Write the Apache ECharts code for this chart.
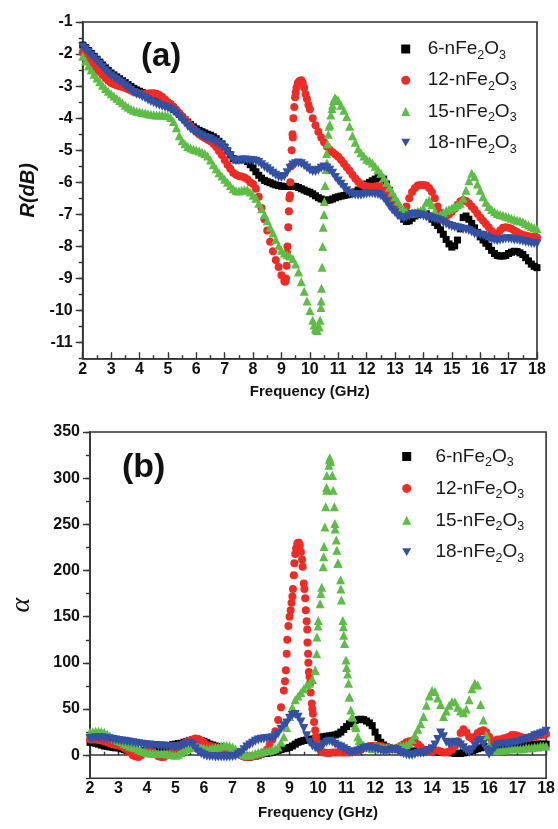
<!DOCTYPE html>
<html>
<head>
<meta charset="utf-8">
<script src="https://cdn.jsdelivr.net/npm/echarts@6/dist/echarts.min.js"></script>
<style>
html,body{margin:0;padding:0;background:#fff;}
#chart{width:558px;height:829px;}
</style>
</head>
<body>
<div id="chart"></div>
<script>
// Frequency grid (GHz), 0.1 GHz step
const freq = [
2.0,2.1,2.2,2.3,2.4,2.5,2.6,2.7,2.8,2.9,
3.0,3.1,3.2,3.3,3.4,3.5,3.6,3.7,3.8,3.9,
4.0,4.1,4.2,4.3,4.4,4.5,4.6,4.7,4.8,4.9,
5.0,5.1,5.2,5.3,5.4,5.5,5.6,5.7,5.8,5.9,
6.0,6.1,6.2,6.3,6.4,6.5,6.6,6.7,6.8,6.9,
7.0,7.1,7.2,7.3,7.4,7.5,7.6,7.7,7.8,7.9,
8.0,8.1,8.2,8.3,8.4,8.5,8.6,8.7,8.8,8.9,
9.0,9.1,9.2,9.3,9.4,9.5,9.6,9.7,9.8,9.9,
10.0,10.1,10.2,10.3,10.4,10.5,10.6,10.7,10.8,10.9,
11.0,11.1,11.2,11.3,11.4,11.5,11.6,11.7,11.8,11.9,
12.0,12.1,12.2,12.3,12.4,12.5,12.6,12.7,12.8,12.9,
13.0,13.1,13.2,13.3,13.4,13.5,13.6,13.7,13.8,13.9,
14.0,14.1,14.2,14.3,14.4,14.5,14.6,14.7,14.8,14.9,
15.0,15.1,15.2,15.3,15.4,15.5,15.6,15.7,15.8,15.9,
16.0,16.1,16.2,16.3,16.4,16.5,16.6,16.7,16.8,16.9,
17.0,17.1,17.2,17.3,17.4,17.5,17.6,17.7,17.8,17.9,
18.0];

const seriesNames = ['6-nFe2O3', '12-nFe2O3', '15-nFe2O3', '18-nFe2O3'];

// Panel (a): R (dB)
const rA6 = [
-1.72,-1.8,-1.89,-1.98,-2.07,-2.16,-2.25,-2.34,-2.43,-2.51,
-2.59,-2.65,-2.71,-2.77,-2.83,-2.89,-2.95,-3.01,-3.07,-3.12,
-3.16,-3.2,-3.24,-3.29,-3.34,-3.4,-3.45,-3.5,-3.55,-3.58,
-3.62,-3.67,-3.73,-3.8,-3.88,-3.96,-4.04,-4.12,-4.2,-4.27,
-4.33,-4.38,-4.42,-4.46,-4.5,-4.53,-4.58,-4.64,-4.72,-4.8,
-4.9,-5.02,-5.14,-5.26,-5.3,-5.3,-5.29,-5.3,-5.35,-5.45,
-5.55,-5.67,-5.78,-5.87,-5.94,-5.98,-6.01,-6.05,-6.08,-6.1,
-6.12,-6.13,-6.13,-6.12,-6.12,-6.13,-6.16,-6.2,-6.24,-6.28,
-6.31,-6.36,-6.42,-6.48,-6.52,-6.55,-6.56,-6.55,-6.52,-6.48,
-6.45,-6.43,-6.41,-6.39,-6.37,-6.35,-6.3,-6.24,-6.16,-6.1,
-6.05,-6.0,-5.95,-5.9,-5.86,-5.86,-5.9,-6.05,-6.25,-6.45,
-6.65,-6.85,-7.02,-7.15,-7.22,-7.2,-7.12,-7.05,-7.0,-6.98,
-6.97,-6.98,-7.05,-7.15,-7.25,-7.35,-7.48,-7.62,-7.78,-7.92,
-8.02,-7.98,-7.8,-7.45,-7.1,-7.05,-7.15,-7.28,-7.42,-7.56,
-7.7,-7.8,-7.9,-8.0,-8.12,-8.22,-8.28,-8.3,-8.3,-8.28,
-8.22,-8.18,-8.15,-8.16,-8.2,-8.25,-8.35,-8.45,-8.55,-8.62,
-8.66];

const rA12 = [
-1.95,-2.05,-2.15,-2.27,-2.38,-2.47,-2.55,-2.65,-2.75,-2.83,
-2.9,-2.94,-2.97,-3.0,-3.03,-3.06,-3.1,-3.14,-3.18,-3.21,
-3.23,-3.24,-3.24,-3.23,-3.22,-3.22,-3.24,-3.28,-3.34,-3.42,
-3.5,-3.56,-3.64,-3.74,-3.84,-3.94,-4.04,-4.14,-4.24,-4.34,
-4.42,-4.5,-4.56,-4.62,-4.67,-4.72,-4.8,-4.9,-5.02,-5.15,
-5.3,-5.45,-5.58,-5.7,-5.76,-5.8,-5.82,-5.85,-5.9,-6.0,
-6.05,-6.2,-6.45,-6.8,-7.15,-7.5,-7.85,-8.15,-8.42,-8.64,
-8.9,-9.08,-8.2,-6.4,-4.6,-3.2,-2.88,-2.82,-3.05,-3.4,
-3.72,-4.0,-4.22,-4.42,-4.6,-4.75,-4.88,-4.98,-5.06,-5.13,
-5.2,-5.3,-5.42,-5.53,-5.64,-5.76,-5.88,-5.98,-6.06,-6.1,
-6.12,-6.14,-6.14,-6.13,-6.12,-6.14,-6.2,-6.32,-6.48,-6.62,
-6.75,-6.85,-6.9,-6.88,-6.75,-6.5,-6.3,-6.18,-6.1,-6.08,
-6.08,-6.1,-6.18,-6.3,-6.5,-6.75,-6.95,-7.05,-7.05,-7.0,
-6.92,-6.82,-6.7,-6.6,-6.55,-6.58,-6.65,-6.75,-6.85,-6.98,
-7.1,-7.2,-7.3,-7.4,-7.52,-7.62,-7.6,-7.5,-7.42,-7.4,
-7.42,-7.45,-7.5,-7.55,-7.6,-7.64,-7.66,-7.68,-7.7,-7.7,
-7.72];
// extra readings on the steep rise of 12-nFe2O3 (a): [frequency, R]
const rA12Steep = [[9.13,-9.1],[9.16,-9.0],[9.18,-8.6],[9.21,-8.0],[9.24,-7.4],[9.26,-6.9],[9.28,-6.5],[9.31,-6.0],[9.34,-5.5],[9.36,-5.0],[9.39,-4.5],[9.42,-4.0],[9.45,-3.65],[9.48,-3.35],[9.53,-3.05],[9.57,-2.92],[9.64,-2.84],[9.75,-2.9],[9.85,-3.25],[9.95,-3.58]];

const rA15 = [
-2.07,-2.22,-2.37,-2.5,-2.63,-2.75,-2.86,-2.97,-3.07,-3.16,
-3.24,-3.31,-3.38,-3.45,-3.52,-3.6,-3.66,-3.71,-3.75,-3.78,
-3.8,-3.82,-3.84,-3.86,-3.88,-3.89,-3.9,-3.9,-3.9,-3.91,
-3.92,-3.98,-4.1,-4.3,-4.55,-4.7,-4.8,-4.88,-4.93,-4.97,
-4.99,-5.02,-5.06,-5.1,-5.18,-5.3,-5.45,-5.58,-5.7,-5.8,
-5.9,-6.0,-6.1,-6.2,-6.26,-6.27,-6.25,-6.23,-6.23,-6.3,
-6.4,-6.5,-6.65,-6.82,-7.0,-7.2,-7.4,-7.58,-7.78,-7.98,
-8.12,-8.2,-8.26,-8.3,-8.38,-8.55,-8.8,-9.1,-9.4,-9.7,
-10.0,-10.3,-10.55,-10.5,-9.7,-7.0,-5.4,-4.2,-3.6,-3.38,
-3.45,-3.6,-3.75,-3.95,-4.25,-4.55,-4.75,-4.95,-5.08,-5.18,
-5.28,-5.33,-5.4,-5.5,-5.6,-5.72,-5.86,-6.0,-6.15,-6.3,
-6.45,-6.6,-6.75,-6.85,-6.92,-6.97,-6.96,-6.93,-6.9,-6.88,
-6.8,-6.62,-6.56,-6.7,-6.9,-7.05,-7.02,-6.95,-6.88,-6.85,
-6.8,-6.75,-6.7,-6.65,-6.5,-6.25,-5.95,-5.72,-5.82,-6.05,
-6.25,-6.45,-6.62,-6.75,-6.85,-6.92,-6.97,-7.0,-7.03,-7.06,
-7.08,-7.12,-7.15,-7.18,-7.2,-7.23,-7.28,-7.33,-7.38,-7.42,
-7.45];
const rA15Steep = [[10.15,-10.45],[10.22,-10.6],[10.26,-10.62],[10.33,-10.5],[10.36,-10.3],[10.39,-9.9],[10.41,-9.3],[10.43,-8.65],[10.45,-8.0],[10.47,-7.4],[10.51,-6.6],[10.54,-6.1],[10.57,-5.6],[10.59,-5.1],[10.62,-4.8],[10.65,-4.5],[10.68,-4.25],[10.74,-3.9],[10.78,-3.7],[10.84,-3.45],[10.88,-3.37],[10.95,-3.42]];

const rA18 = [
-1.78,-1.86,-1.95,-2.04,-2.13,-2.22,-2.32,-2.42,-2.52,-2.6,
-2.68,-2.74,-2.8,-2.86,-2.92,-2.99,-3.06,-3.13,-3.2,-3.25,
-3.28,-3.33,-3.38,-3.43,-3.48,-3.52,-3.56,-3.6,-3.63,-3.66,
-3.68,-3.72,-3.78,-3.86,-3.96,-4.06,-4.16,-4.26,-4.34,-4.4,
-4.45,-4.5,-4.55,-4.6,-4.63,-4.65,-4.7,-4.76,-4.82,-4.86,
-4.95,-5.06,-5.18,-5.3,-5.33,-5.32,-5.3,-5.3,-5.31,-5.32,
-5.33,-5.34,-5.38,-5.45,-5.52,-5.58,-5.65,-5.72,-5.78,-5.83,
-5.85,-5.82,-5.7,-5.56,-5.46,-5.42,-5.4,-5.42,-5.48,-5.55,
-5.62,-5.66,-5.66,-5.62,-5.56,-5.52,-5.55,-5.62,-5.72,-5.85,
-5.96,-6.06,-6.16,-6.26,-6.33,-6.37,-6.39,-6.4,-6.4,-6.38,
-6.36,-6.35,-6.35,-6.36,-6.38,-6.42,-6.5,-6.62,-6.75,-6.86,
-6.95,-7.05,-7.1,-7.13,-7.1,-7.05,-7.0,-6.99,-7.0,-7.02,
-7.05,-7.08,-7.1,-7.12,-7.14,-7.17,-7.2,-7.25,-7.3,-7.35,
-7.38,-7.4,-7.42,-7.44,-7.46,-7.48,-7.5,-7.55,-7.6,-7.62,
-7.64,-7.66,-7.7,-7.74,-7.78,-7.8,-7.82,-7.8,-7.78,-7.76,
-7.76,-7.77,-7.8,-7.8,-7.82,-7.84,-7.86,-7.88,-7.9,-7.91,
-7.92];

// Panel (b): alpha
const aB6 = [
14,13.5,13,12,11,10,9.5,9,8.5,8,
8,7,6,5,4,3.5,3,3.5,4,5,
5.5,6,6.5,7,7.5,8,8.5,9.5,10.5,11.5,
12,12.5,13,14,15,16,16.5,17,16.5,16,
15,13.5,12,11,10,9.5,9,8.5,7.5,6.5,
5,3.5,2,0.5,-1,-2,-2,-1.5,-1,0,
1,2,2,2.5,3,4,5,6,7,7.5,
8.5,10,12,14,15,16,16.5,17,17.5,18,
19,19.5,20,20.5,21,21.5,22,23,25,28,
31,34,36,37.5,38.5,39,38.5,37,35,32,
25,19,14,11,9,8,7,6,6,5.5,
5,5,5,4.5,4.5,4,4,4.5,5,5,
4.5,4,3.5,3,3,3,3,2.5,2,2,
2,2.5,3,4,5,6,7,8,8.5,9,
9.5,10,10,10,10,10,10,10.5,11,11,
11,11,11,11,11.5,11.5,12,12,12,12,
12];

const aB12 = [
17,17,17,16.5,16,15,14,13,12,11,
10.5,9.5,8,6,3,0,-1.5,-2,0,3,
5,5,3.5,1,-1,-2,-2,0,2,4,
6,8,10.5,12.5,14.5,16,17,18,17.5,16,
14,11,10,9.5,8.5,7.5,7,6.5,6,5,
4,3,1.5,0,-1.5,-2,-1.5,-1,-0.5,0,
1,3,6,11,17,26,38,52,70,110,
150,172,218,230,220,186,145,85,50,27,
8,5,3,2.5,2.5,3,3,3,3,3,
3,3,3.5,4,5,6,8,9,10,10,
10,10,10,9,8,7,7,7,8,10,
12,14,15,15,14,12,9,6,5,4,
4,5,5,4,3,3,4,6,10,15,
24,28,25,20,18,20,24,26,27,25,
20,16,16,17,17,18,19,20,22,22,
21,20,19,19,19,20,20,21,22,22,
23];
const aB12Peak = [[8.84,80],[8.87,92],[8.92,125],[8.96,140],[9.04,157],[9.07,165],[9.12,180],[9.15,195],[9.17,208],[9.23,224],[9.27,229],[9.33,230],[9.36,227],[9.44,212],[9.46,204],[9.52,180],[9.55,170],[9.57,157],[9.62,136],[9.63,122],[9.65,110],[9.66,100],[9.68,90],[9.72,78],[9.74,68],[9.78,56],[9.82,45],[9.86,36],[9.93,20],[9.96,14]];

const aB15 = [
25,25.5,26,26,25.5,25,23,21,19,17.5,
16,14.5,13,11.5,10,9,8,6.5,5,4,
3,2.5,2,2,2,2,2,1.5,1,0.5,
0,1,3,5,7,8,9,9,9,8,
7.5,7,7,7.5,8,9,10,10.5,10.5,10,
9,7,4,2,0.5,0,0,1,2,3,
3.5,4,4.5,5,6,7,9,14,20,30,
42,52,60,64,68,72,76,78,82,92,
140,175,215,290,320,303,245,208,180,130,
95,63,42,32,20,14,11,9,8,7,
10,9,9,8,8,8,8,8,9,10,
10,11,13,17,22,28,34,42,54,64,
70,69,62,55,42,48,54,58,58,52,
48,46,50,60,72,78,76,55,38,22,
12,6,5,5,5,6,6,7,7,7,
7,7,7,8,8,8,9,9,10,10,
10];
const aB15Peak = [[9.9,92],[9.95,110],[9.96,128],[10.01,146],[10.07,164],[10.13,182],[10.18,204],[10.21,226],[10.24,247],[10.27,269],[10.3,287],[10.31,303],[10.38,314],[10.41,322],[10.44,318],[10.5,303],[10.53,287],[10.57,269],[10.59,251],[10.64,233],[10.66,222],[10.7,208],[10.79,190],[10.82,168],[10.87,146],[10.89,139],[10.93,121],[10.98,103],[11.04,88],[11.07,78],[11.1,63],[11.15,49],[11.21,41],[11.33,30],[11.44,16]];

const aB18 = [
18,18.5,19,19,19,18.5,18,17.5,17,16.5,
16,15.5,15,14.5,14,13.5,13,12.5,12,11.5,
11,11,10.5,10.5,10,10,10,9.5,9.5,9,
9,9.5,10,11,12.5,13,11,7,3.5,1.5,
0,-1,-1.5,-1.5,-2,-2,-2,-2,-2,-2,
-1.5,-1,1,3,6,9,11,13,15,16.5,
17.3,17.5,18,18.5,19,20,23,28,32,35,
40,43,44,41,36,29,21,14,10,8,
7,9,12,14,15,14,12,10,9,7,
5,3.5,3,3.5,4.5,5.5,7,8,8,7.5,
7,6,5,4,4,5,6,6.5,5,3,
1.5,0.5,0,0,1,2,2,2.5,3.5,5,
7,11,17,24,20,14,12,13,14,13,
11,8,5,3,6,10,14,16,12,6,
1,4,8,11,12,12,12,12.5,13,13.5,
14,15,16,17,18,19,21,22,23,24,
26];

const xTicks = [2,3,4,5,6,7,8,9,10,11,12,13,14,15,16,17,18];
const yTicksA = [-11,-10,-9,-8,-7,-6,-5,-4,-3,-2,-1];
const yTicksB = [0,50,100,150,200,250,300,350];

function pairs(vals, extra) {
  const out = freq.map((f, i) => [f, vals[i]]);
  return extra ? out.concat(extra) : out;
}

const FONT = "'Liberation Sans', Arial, sans-serif";
const AXC = '#333';
const symbols = ['rect', 'circle', 'triangle', 'path://M0,0L10,0L5,8.66Z'];
const sizes = [7, 8, 9, 9];
const colors = ['#000000', '#ee2c25', '#5dbd46', '#3450a2'];

function legendFor(left, top, gapWidth, gap) {
  return {
    orient: 'vertical', left: left, top: top, padding: 0,
    itemWidth: 9, itemHeight: 9, itemGap: gap,
    data: seriesNames.map((n, i) => ({ name: n, icon: symbols[i] })),
    formatter: function (name) {
      const num = name.split('-')[0];
      return '{g| }{n|' + num + '-nFe}{s|2}{n|O}{s|3}';
    },
    textStyle: {
      rich: {
        g: { width: gapWidth, fontSize: 10, lineHeight: 26 },
        n: { fontSize: 19, fontFamily: FONT, color: '#1a1a1a', lineHeight: 26, verticalAlign: 'middle' },
        s: { fontSize: 12.5, fontFamily: FONT, color: '#1a1a1a', lineHeight: 26, verticalAlign: 'bottom' }
      }
    }
  };
}

function xAxisFor(gi, nameGap, labelMargin) {
  return {
    type: 'value', gridIndex: gi, min: 2, max: 18, interval: 1,
    name: 'Frequency (GHz)', nameLocation: 'middle', nameGap: nameGap,
    nameTextStyle: { fontFamily: FONT, fontSize: 15, fontWeight: 'bold', color: '#111' },
    axisLine: { lineStyle: { color: AXC, width: 1.6 } },
    axisTick: { inside: true, length: 6.5, lineStyle: { color: AXC, width: 1.4 } },
    minorTick: { show: true, splitNumber: 2, length: 3.5, lineStyle: { color: AXC, width: 1.4 } },
    axisLabel: { fontFamily: FONT, fontSize: 16, fontWeight: 'bold', color: '#111', margin: labelMargin },
    splitLine: { show: false }
  };
}

const option = {
  animation: false,
  backgroundColor: '#ffffff',
  title: [
    { text: '(a)', left: 141, top: 40, padding: 0, textStyle: { fontFamily: FONT, fontSize: 33, fontWeight: 'bold', color: '#111' } },
    { text: '(b)', left: 122, top: 451, padding: 0, textStyle: { fontFamily: FONT, fontSize: 34, fontWeight: 'bold', color: '#111' } }
  ],
  legend: [legendFor(401.2, 39.5, 12.5, 8.7), legendFor(402.2, 447, 19.2, 9.4)],
  grid: [
    { left: 82.7, top: 22, width: 454.3, height: 336.7, show: true, borderColor: AXC, borderWidth: 1.6, backgroundColor: 'transparent' },
    { left: 80.3, top: 432, width: 466.7, height: 346.3, show: true, borderColor: AXC, borderWidth: 1.6, backgroundColor: 'transparent' }
  ],
  xAxis: [xAxisFor(0, 26, 3), xAxisFor(1, 27, 2)],
  yAxis: [
    {
      type: 'value', gridIndex: 0, position: 'left', min: -11.5, max: -1, interval: 0.5,
      name: 'R(dB)', nameLocation: 'middle', nameGap: 40,
      nameTextStyle: { fontFamily: FONT, fontSize: 20, fontWeight: 'bold', fontStyle: 'italic', color: '#111' },
      axisLine: { lineStyle: { color: AXC, width: 1.6 } },
      axisTick: { inside: false, length: 7, customValues: yTicksA, lineStyle: { color: AXC, width: 1.4 } },
      axisLabel: { customValues: yTicksA, fontFamily: FONT, fontSize: 16, fontWeight: 'bold', color: '#111', margin: 10 },
      splitLine: { show: false }
    },
    {
      type: 'value', gridIndex: 0, position: 'left', min: -11.5, max: -1, interval: 0.5,
      axisLine: { show: false },
      axisTick: { inside: false, length: 4, lineStyle: { color: AXC, width: 1.4 } },
      axisLabel: { show: false }, splitLine: { show: false }
    },
    {
      type: 'value', gridIndex: 1, position: 'left', min: -25, max: 350, interval: 25,
      name: 'α', nameLocation: 'middle', nameGap: 54,
      nameTextStyle: { fontFamily: "'Liberation Serif', 'DejaVu Serif', serif", fontSize: 28, fontStyle: 'italic', color: '#111' },
      axisLine: { lineStyle: { color: AXC, width: 1.6 } },
      axisTick: { inside: false, length: 7, customValues: yTicksB, lineStyle: { color: AXC, width: 1.4 } },
      axisLabel: { customValues: yTicksB, fontFamily: FONT, fontSize: 16, fontWeight: 'bold', color: '#111', margin: 10 },
      splitLine: { show: false }
    },
    {
      type: 'value', gridIndex: 1, position: 'left', min: -25, max: 350, interval: 25,
      axisLine: { show: false },
      axisTick: { inside: false, length: 4, lineStyle: { color: AXC, width: 1.4 } },
      axisLabel: { show: false }, splitLine: { show: false }
    }
  ],
  series: []
};

const dataA = [pairs(rA6), pairs(rA12, rA12Steep), pairs(rA15, rA15Steep), pairs(rA18)];
const dataB = [pairs(aB6), pairs(aB12, aB12Peak), pairs(aB15, aB15Peak), pairs(aB18)];

for (let i = 0; i < 4; i++) {
  option.series.push({
    type: 'scatter', name: seriesNames[i], xAxisIndex: 0, yAxisIndex: 0,
    symbol: symbols[i], symbolSize: sizes[i], data: dataA[i],
    itemStyle: { color: colors[i], opacity: 1 }, z: 2 + i
  });
}
for (let i = 0; i < 4; i++) {
  option.series.push({
    type: 'scatter', name: seriesNames[i], xAxisIndex: 1, yAxisIndex: 2,
    symbol: symbols[i], symbolSize: sizes[i], data: dataB[i],
    itemStyle: { color: colors[i], opacity: 1 }, z: 2 + i
  });
}

const chart = echarts.init(document.getElementById('chart'), null, { renderer: 'canvas' });
chart.setOption(option);
</script>
</body>
</html>
